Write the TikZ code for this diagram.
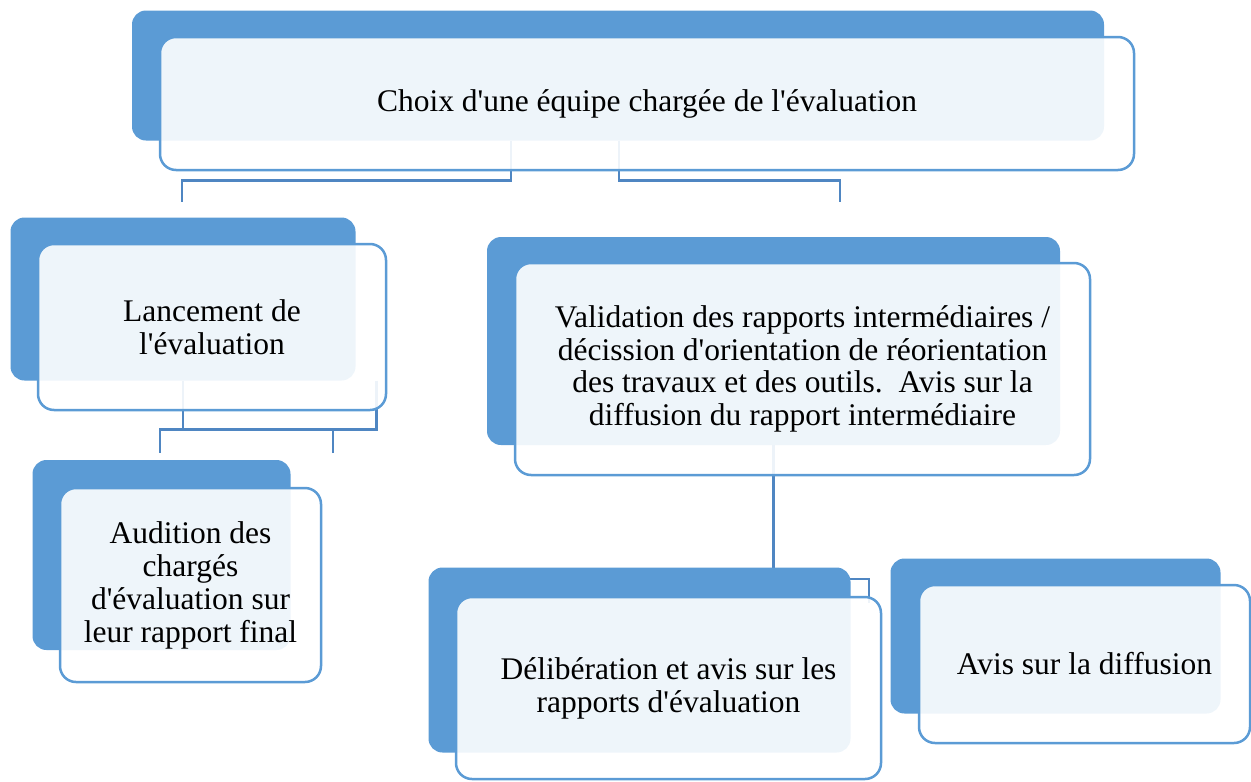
\documentclass[tikz,border=0pt]{standalone}
\usepackage{fontspec}
\setmainfont{Liberation Serif}[Ligatures=TeXOff]
\usetikzlibrary{calc,positioning}
\definecolor{boxblue}{HTML}{5B9BD5}
\definecolor{linkblue}{HTML}{4F86C2}
\pgfdeclarelayer{lines}
\pgfdeclarelayer{back}
\pgfsetlayers{lines,back,main}
\frenchspacing

\begin{document}
\begin{tikzpicture}[x=1pt,y=-1pt,
    every node/.style={font=\fontsize{31.5}{33}\selectfont}]
  \tikzset{frontbox/.style={draw=boxblue, line width=2.5pt,
      fill=white, fill opacity=0.9, text opacity=1,
      rounded corners=16pt, align=center, inner sep=0pt},
    backbox/.style={fill=boxblue, rounded corners=14pt, inner sep=0pt},
    link/.style={draw=linkblue, line width=2.5pt}}
  \useasboundingbox (0,0) rectangle (1251,782);

  % front boxes
  \node[frontbox, minimum width=974pt, minimum height=133pt] (choix) at (647,103.5) {Choix d'une équipe chargée de l'évaluation};
  \node[frontbox, minimum width=348pt, minimum height=166pt] (lanc) at (212,327) {Lancement de\\l'évaluation};
  \node[frontbox, minimum width=261pt, minimum height=194pt] (aud) at (190.5,585) {Audition des\\chargés\\d'évaluation sur\\leur rapport final};
  \node[frontbox, minimum width=575pt, minimum height=212pt] (valid) at (802.5,369) {Validation des rapports intermédiaires /\\[-0.5pt]décission d'orientation de réorientation\\[-0.5pt]des travaux et des outils.~ Avis sur la\\[-0.5pt]diffusion du rapport intermédiaire};
  \node[frontbox, minimum width=425pt, minimum height=182pt] (delib) at (668.5,688) {Délibération et avis sur les\\rapports d'évaluation};
  \node[frontbox, minimum width=331pt, minimum height=158pt] (avis) at (1084.5,664) {Avis sur la diffusion};

  % back boxes
  \begin{pgfonlayer}{back}
    \node[backbox, minimum width=972pt, minimum height=130pt] (choixB) at ($(choix)+(-29,-28)$) {};
    \node[backbox, minimum width=345pt, minimum height=163pt] (lancB) at ($(lanc)+(-29,-28)$) {};
    \node[backbox, minimum width=258pt, minimum height=190pt] (audB) at ($(aud)+(-29,-30)$) {};
    \node[backbox, minimum width=573pt, minimum height=208pt] (validB) at ($(valid)+(-29,-28)$) {};
    \node[backbox, minimum width=422pt, minimum height=185pt] (delibB) at ($(delib)+(-29,-28)$) {};
    \node[backbox, minimum width=330pt, minimum height=155pt] (avisB) at ($(avis)+(-29,-28)$) {};
  \end{pgfonlayer}

  % connectors
  \coordinate (lancIn) at (182,202);
  \coordinate (validIn) at (840,202);
  \coordinate (audIn) at (160,453);
  \coordinate (lancOut) at (333,453);
  \coordinate (avisIn) at (869,603);
  \begin{pgfonlayer}{lines}
    \draw[link] ([xshift=-107pt]choixB.south) -- ++(0,40) -| (lancIn);
    \draw[link] ([xshift=1pt]choixB.south) -- ++(0,40) -| (validIn);
    \draw[link] (lancB.south) -- ++(0,49) -| (audIn);
    \draw[link] ([xshift=193.5pt]lancB.south) -- ++(0,49) -| (audIn);
    \draw[link] (lancOut) -- ++(0,-23);
    \draw[link] (validB.south) -- (validB.south |- delibB.north);
    \draw[link] (validB.south) -- ++(0,134) -| (avisIn);
  \end{pgfonlayer}
\end{tikzpicture}
\end{document}
